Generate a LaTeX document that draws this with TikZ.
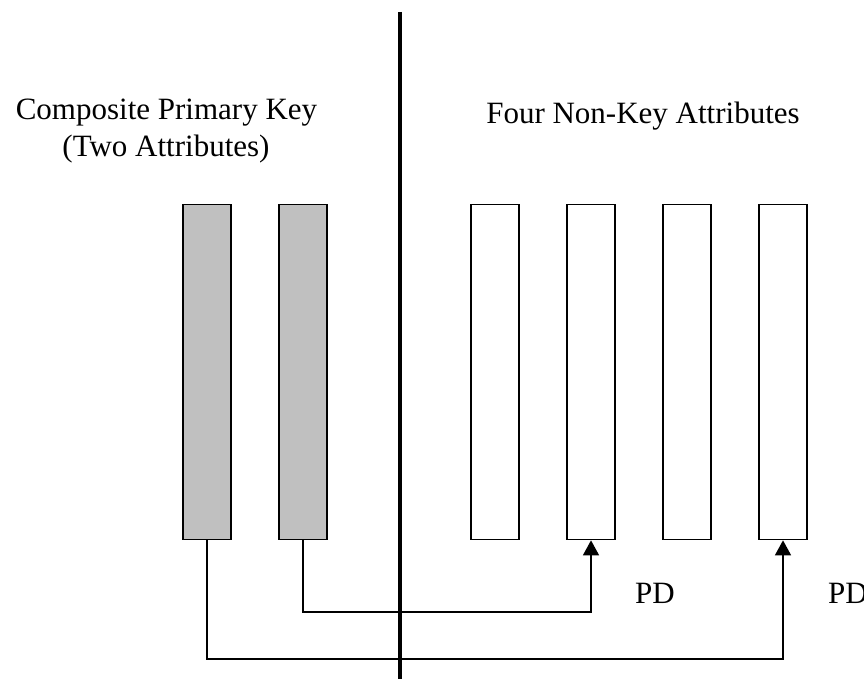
\documentclass[tikz,border=0pt]{standalone}
\usepackage{fontspec}
\setmainfont{Liberation Serif}
\usetikzlibrary{arrows.meta}
\begin{document}
\begin{tikzpicture}[x=1pt,y=-1pt,
  attr/.style={draw=black, line width=1.7pt, minimum width=47.5pt,
    minimum height=335pt, inner sep=0pt},
  keyattr/.style={attr, fill={rgb,255:red,192;green,192;blue,192}},
  plainattr/.style={attr, fill=white},
  caption/.style={inner sep=0pt, font=\fontsize{31}{36}\selectfont},
  conn/.style={line width=1.5pt, -{Triangle[length=15pt,width=16pt]}},
  divider/.style={line width=4.5pt}]
  \useasboundingbox (0,0) rectangle (864,679);
  \clip (0,0) rectangle (864,679);

  % headings
  \node[caption, anchor=base] (hkey) at (166.5,120) {Composite Primary Key};
  \node[caption, anchor=base] (hkey2) at (166,157) {(Two Attributes)};
  \node[caption, anchor=base] (hnon) at (643,124) {Four Non-Key Attributes};

  % key attributes
  \node[keyattr] (k1) at (207,372) {};
  \node[keyattr] (k2) at (303,372) {};

  % non-key attributes
  \node[plainattr] (n1) at (495,372) {};
  \node[plainattr] (n2) at (591,372) {};
  \node[plainattr] (n3) at (687,372) {};
  \node[plainattr] (n4) at (783,372) {};

  % partial dependencies
  \coordinate (c2) at (303,612);
  \coordinate (c1) at (207,659);
  \draw[conn] (k2.south) -- (c2) -| (n2.south);
  \draw[conn] (k1.south) -- (c1) -| (n4.south);

  \node[caption, anchor=base west] (pd1) at (635,603) {PD};
  \node[caption, anchor=base west] (pd2) at (828,603) {PD};

  % divider between key and non-key attributes
  \coordinate (dtop) at (400,12);
  \coordinate (dbot) at (400,685);
  \draw[divider] (dtop) -- (dbot);
\end{tikzpicture}
\end{document}
